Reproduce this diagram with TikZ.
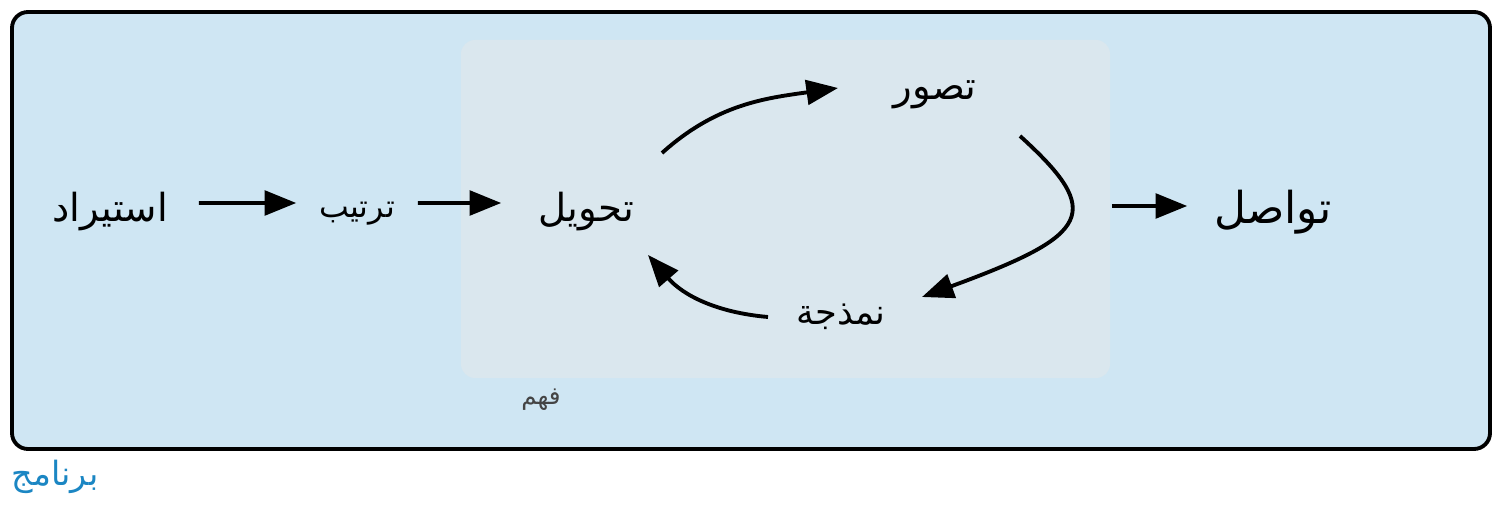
\documentclass[tikz,border=0pt]{standalone}
\usepackage{fontspec}
\newfontfamily\arabicfont[Script=Arabic]{DejaVu Sans}
\TeXXeTstate=1
\usepackage{xcolor}
\usetikzlibrary{arrows.meta,positioning}

\definecolor{outerblue}{HTML}{CFE6F3}
\definecolor{innerblue}{HTML}{DAE7EE}
\definecolor{progblue}{HTML}{1B86C3}
\definecolor{labelgrey}{HTML}{444444}
\newcommand{\artext}[1]{\beginR #1\endR}

\begin{document}
\begin{tikzpicture}[->, >={Triangle[length=9pt,width=7pt]}, line width=1.1pt,
                step node/.style={inner ysep=2pt, font=\fontsize{11}{13}\selectfont\arabicfont},
                box node/.style={fill=innerblue, rounded corners=0.14cm, minimum width=6.49cm, minimum height=3.38cm}]

      \useasboundingbox (0,0) rectangle (15.04,5.08);
      \draw[-, line width=1.1pt, fill=outerblue, rounded corners=0.16cm] (0.12,0.59) rectangle (14.90,4.96);
      \node[box node] (ubox) at (7.855,2.99) {};

      \node[step node, inner xsep=0.29cm] (imp) at (1.10,2.96) {\artext{استيراد}};
      \node[step node, inner xsep=0.21cm, font=\fontsize{9}{11}\selectfont\arabicfont] (tidy) at (3.57,2.94) {\artext{ترتيب}};
      \node[step node, inner xsep=0.35cm] (trans) at (5.86,2.96) {\artext{تحويل}};
      \node[step node] (vis) at (9.35,4.13) {\artext{تصور}};
      \node[step node, font=\fontsize{10}{12}\selectfont\arabicfont] (model) at (8.41,1.91) {\artext{نمذجة}};
      \node[step node, inner xsep=0.25cm, font=\fontsize{12.5}{14}\selectfont\arabicfont] (comm) at (12.73,2.96) {\artext{تواصل}};
      \node[font=\fontsize{7}{9}\selectfont\arabicfont, text=labelgrey] (und) at (5.41,1.08) {\artext{فهم}};
      \node[font=\fontsize{9.5}{11}\selectfont\arabicfont, text=progblue] (prog) at (0.55,0.31) {\artext{برنامج}};

      \draw ([yshift=0.09cm]imp.east) -- ([yshift=0.11cm]tidy.west);
      \draw ([yshift=0.11cm]tidy.east) -- ([yshift=0.09cm]trans.west);
      \draw ([shift={(0.76,0.59)}]trans.center) to[out=42, in=188] ([shift={(-0.97,0.07)}]vis.center);
      \draw ([shift={(0.85,-0.41)}]vis.center) .. controls +(0.85,-0.77) and +(1.69,0.62) .. ([shift={(0.81,0.2)}]model.center);
      \draw ([shift={(-0.73,0)}]model.center) to[out=175, in=-49] ([shift={(0.62,-0.43)}]trans.center);
      \draw ([yshift=0.03cm]ubox.east) -- ([yshift=0.06cm]comm.west);
  \end{tikzpicture}
\end{document}
